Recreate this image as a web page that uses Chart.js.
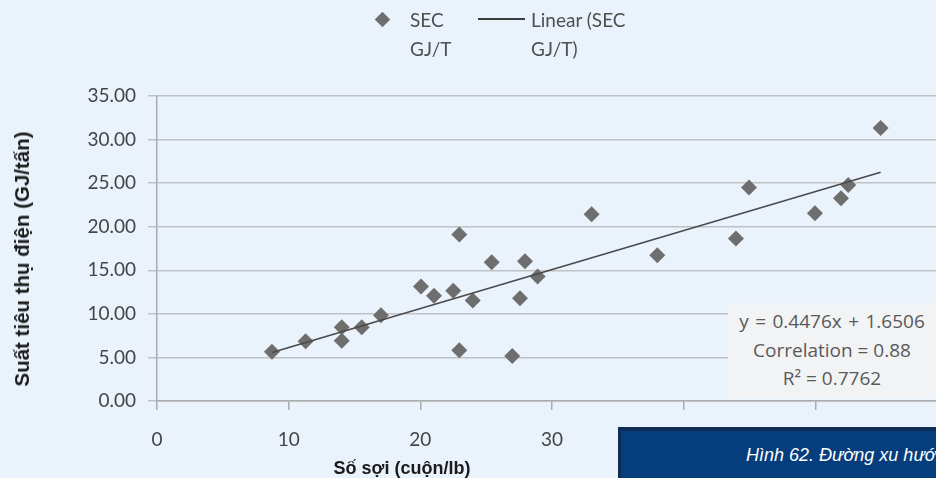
<!DOCTYPE html>
<html>
<head>
<meta charset="utf-8">
<script src="https://cdn.jsdelivr.net/npm/chart.js@4.4.1/dist/chart.umd.min.js"></script>
<style>
  html, body { margin: 0; padding: 0; }
  body { width: 936px; height: 478px; overflow: hidden; position: relative; background: #eaf2fb; }
  #chart { position: absolute; left: 0; top: 0; }
  .abs { position: absolute; white-space: nowrap; }
  .legend-text { font-family: Lato, sans-serif; font-size: 19px; color: #4f4f4f; line-height: 29px; }
  #y-title { font-family: "Liberation Sans", Arial, sans-serif; font-weight: bold; font-size: 20.5px; color: #1b1b1b;
             left: 22px; top: 259px; transform: translate(-50%, -50%) rotate(-90deg); }
  #x-title { font-family: "Liberation Sans", Arial, sans-serif; font-weight: bold; font-size: 18px; color: #1b1b1b;
             left: 402px; top: 468px; transform: translate(-50%, -50%); }
  #eq-box { left: 728px; top: 303px; width: 208px; height: 95px; background: #f2f3f4; text-align: center;
            font-family: "Open Sans", sans-serif; font-size: 19px; color: #595959; line-height: 28.5px;
            padding-top: 4px; box-sizing: border-box; }
  #eq-box .eq { word-spacing: 1.5px; }
  #caption { left: 618px; top: 427px; width: 330px; height: 51px; background: #063d7d;
             border-top: 4px solid #0d2c56; border-left: 3px solid #0d2c56; box-sizing: border-box; overflow: hidden; }
  #caption span { position: absolute; left: 125px; top: 14px; font-family: "Liberation Sans", Arial, sans-serif;
                  font-style: italic; font-size: 18px; color: #ffffff; white-space: nowrap; }
</style>
</head>
<body>
<canvas id="chart" width="1000" height="478"></canvas>

<div class="abs" style="left:377px; top:14px; width:11px; height:11px; background:#6e6e6e; transform:rotate(45deg);"></div>
<div class="abs legend-text" style="left:410px; top:5px;">SEC<br>GJ/T</div>
<div class="abs" style="left:478px; top:18px; width:47px; height:2px; background:#3d3d3d;"></div>
<div class="abs legend-text" style="left:531px; top:5px;">Linear (SEC<br>GJ/T)</div>

<div id="y-title" class="abs">Suất tiêu thụ điện (GJ/tấn)</div>
<div id="x-title" class="abs">Số sợi (cuộn/lb)</div>

<div id="eq-box" class="abs"><span class="eq">y = 0.4476x + 1.6506</span><br>Correlation = 0.88<br>R² = 0.7762</div>
<div id="caption" class="abs"><span>Hình 62. Đường xu hướng</span></div>

<script>
// số sợi (x) va SEC (y)
const secX = [8.73, 11.29, 14.03, 14.03, 15.55, 17.01, 20.05, 21.04, 22.5, 22.96, 22.96, 23.98, 25.42,
              26.98, 27.57, 27.95, 28.91, 33.01, 38.0, 43.97, 44.96, 49.97, 51.95, 52.5, 54.96]
const secY = [5.64, 6.87, 8.46, 6.91, 8.46, 9.84, 13.15, 12.07, 12.65, 19.12, 5.83, 11.53, 15.92,
              5.17, 11.8, 16.03, 14.3, 21.43, 16.73, 18.66, 24.51, 21.54, 23.28, 24.78, 31.33]

const slope = 0.4476
const intercept = 1.6506

const yTicks = [0, 5, 10, 15, 20, 25, 30, 35]
const xTicks = [0, 10, 20, 30, 40, 50, 60]

const points = secX.map((x, i) => ({ x: x, y: secY[i] }))
const xMin = Math.min(...secX)
const xMax = Math.max(...secX)
const trend = [xMin, xMax].map(x => ({ x: x, y: slope * x + intercept }))

const tickFont = { family: 'Lato', size: 19 }

new Chart(document.getElementById('chart').getContext('2d'), {
    type: 'scatter',
    data: {
        datasets: [{
            type: 'line',
            label: 'Linear (SEC GJ/T)',
            data: trend,
            borderColor: '#4a4a4a',
            borderWidth: 1.6,
            pointRadius: 0,
            fill: false,
            order: 0
        }, {
            label: 'SEC GJ/T',
            data: points,
            pointStyle: 'rectRot',
            pointRadius: 8,
            pointBackgroundColor: '#6e6e6e',
            pointBorderWidth: 0,
            order: 1
        }]
    },
    options: {
        responsive: false,
        animation: false,
        layout: { padding: { top: 96, right: 53, bottom: 0, left: 0 } },
        plugins: { legend: { display: false }, tooltip: { enabled: false } },
        scales: {
            x: {
                type: 'linear',
                min: 0,
                max: 60,
                afterFit: s => { s.height = 77 },
                afterBuildTicks: s => { s.ticks = xTicks.map(v => ({ value: v })) },
                grid: { drawOnChartArea: false, drawTicks: true, tickLength: 9, color: '#a9abad', lineWidth: 1.5 },
                border: { display: true, color: '#a9abad', width: 1.5 },
                ticks: { font: tickFont, color: '#454545', padding: 18, callback: v => v === 60 ? '' : v }
            },
            y: {
                min: 0,
                max: 35,
                afterFit: s => { s.width = 157 },
                afterBuildTicks: s => { s.ticks = yTicks.map(v => ({ value: v })) },
                grid: { drawTicks: true, tickLength: 9, color: '#bfc2c5', lineWidth: 1.5 },
                border: { display: true, color: '#a9abad', width: 1.5 },
                ticks: { font: tickFont, color: '#454545', padding: 12, callback: v => v.toFixed(2) }
            }
        }
    }
});
</script>
</body>
</html>
